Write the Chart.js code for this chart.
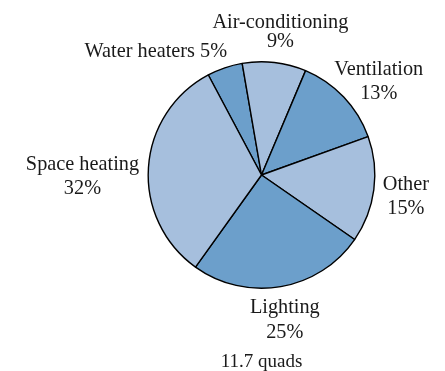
<!DOCTYPE html>
<html>
<head>
<meta charset="utf-8">
<script src="https://cdn.jsdelivr.net/npm/chart.js@4"></script>
<style>
  html, body { margin: 0; padding: 0; background: #fff; }
  #wrap { width: 445px; height: 371px; position: relative; }
</style>
</head>
<body>
<div id="wrap"><canvas id="pie"></canvas></div>
<script>
// energy use by end use, percent of 11.7 quads
const categories = ['Water heaters', 'Air-conditioning', 'Ventilation', 'Other', 'Lighting', 'Space heating'];
const shares = [5, 9, 13, 15, 25, 32];
const totalLabel = '11.7 quads';

const lightBlue = '#a6bfdd';
const midBlue = '#6c9fcb';

// where each label sits relative to the rim point at the slice's mid-angle
const labelPlacement = [
    { dx: -69, dy: -16, gap: 0, oneLine: true },
    { dx: 6, dy: -30, gap: 19 },
    { dx: 35, dy: -15, gap: 24 },
    { dx: 32, dy: 7, gap: 23.5 },
    { dx: 4, dy: 34, gap: 25 },
    { dx: -66, dy: 9, gap: 23.5 }
];

const sliceLabels = {
    id: 'sliceLabels',
    afterDraw(chart) {
        const ctx = chart.ctx;
        const arcs = chart.getDatasetMeta(0).data;
        ctx.save();
        ctx.fillStyle = '#1a1a1a';
        ctx.font = '20.3px "Liberation Serif", "Times New Roman", serif';
        ctx.textAlign = 'center';
        ctx.textBaseline = 'middle';
        arcs.forEach((arc, i) => {
            const mid = (arc.startAngle + arc.endAngle) / 2;
            const px = arc.x + Math.cos(mid) * arc.outerRadius;
            const py = arc.y + Math.sin(mid) * arc.outerRadius;
            const p = labelPlacement[i];
            const x = px + p.dx;
            const y = py + p.dy;
            const pct = shares[i] + '%';
            if (p.oneLine) {
                ctx.fillText(categories[i] + ' ' + pct, x, y);
            } else {
                ctx.fillText(categories[i], x, y - p.gap / 2);
                ctx.fillText(pct, x, y + p.gap / 2);
            }
        });
        // total below the pie
        const a = arcs[0];
        ctx.font = '19px "Liberation Serif", "Times New Roman", serif';
        ctx.fillText(totalLabel, a.x, a.y + a.outerRadius + 74);
        ctx.restore();
    }
};

new Chart(document.getElementById('pie'), {
    type: 'pie',
    data: {
        labels: categories,
        datasets: [{
            data: shares,
            backgroundColor: [midBlue, lightBlue, midBlue, lightBlue, midBlue, lightBlue],
            borderColor: '#000',
            borderWidth: 1.4
        }]
    },
    options: {
        responsive: true,
        maintainAspectRatio: false,
        animation: false,
        rotation: -28,
        layout: {
            padding: { left: 147, right: 69, top: 61, bottom: 82 }
        },
        plugins: {
            legend: { display: false },
            tooltip: { enabled: false }
        }
    },
    plugins: [sliceLabels]
});
</script>
</body>
</html>
